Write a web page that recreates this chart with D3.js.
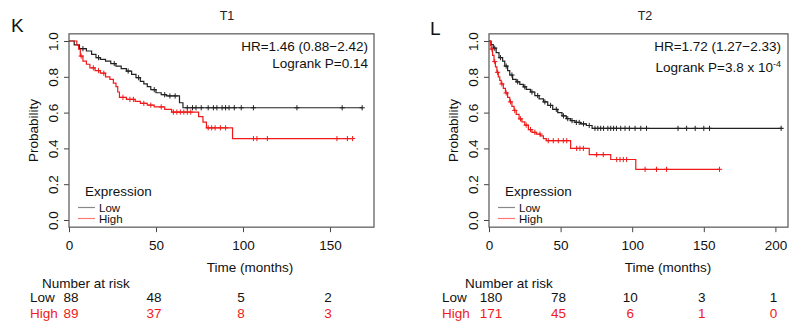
<!DOCTYPE html>
<html lang="en">
<head>
    <meta charset="UTF-8">
    <title>KM T1 / T2</title>
    <script src="https://d3js.org/d3.v7.min.js"></script>
    <style>
        body { margin: 0; background: #fff; }
        svg { display: block; font-family: "Liberation Sans", Arial, sans-serif; }
    </style>
</head>
<body onload='init()'>
    <svg width=789 height=327></svg>

    <script>
        // survival steps [time, probability]
        const t1Low = [[0,1],[3,0.978],[6,0.957],[10,0.944],[13,0.925],[15.5,0.907],[18,0.897],[21,0.888],[24,0.874],[27,0.86],[30,0.846],[33,0.832],[36,0.813],[38.5,0.795],[41,0.775],[43,0.76],[45,0.745],[47,0.728],[50,0.711],[53,0.7],[56,0.693],[63.5,0.655],[65.5,0.627],[169,0.627]];
        const t1High = [[0,1],[4.5,0.977],[5.5,0.954],[6.5,0.916],[8,0.888],[10,0.87],[12,0.85],[15,0.835],[18,0.82],[21,0.8],[23.5,0.786],[25.5,0.765],[27,0.745],[28,0.715],[29,0.685],[33,0.674],[38,0.663],[41,0.652],[45,0.642],[49,0.632],[55,0.618],[59,0.603],[74.5,0.578],[77,0.547],[79,0.515],[94,0.455],[163,0.455]];
        const t1LowCensor = [8,17,26,34,40,49,55,58,61,68,71,73,76,80,83,85,88,90,92,95,99,106,131,157,168.5];
        const t1HighCensor = [7,14,17,20,31,35,37,43,47,53,60,62,64,66,68,70,80,82,84,87,90,106,108,114,154,160,163];

        const t2Low = [[0,1],[1.5,0.98],[3,0.96],[5,0.935],[7,0.907],[9.5,0.888],[11,0.86],[13,0.835],[14.5,0.81],[16.5,0.786],[19,0.772],[21.5,0.758],[24,0.744],[26,0.73],[29,0.715],[32,0.695],[35,0.677],[38,0.66],[41,0.64],[44.5,0.618],[48,0.6],[51,0.582],[54,0.566],[57,0.555],[60,0.545],[64,0.537],[68,0.528],[72,0.512],[205,0.512]];
        const t2High = [[0,1],[1,0.975],[1.5,0.955],[2.5,0.92],[3.5,0.885],[4.5,0.855],[5.5,0.825],[6.5,0.8],[7.5,0.78],[8.5,0.76],[10,0.735],[11.5,0.71],[13,0.685],[14.5,0.66],[16,0.635],[17.5,0.612],[19,0.59],[21,0.565],[23,0.548],[25,0.53],[27.5,0.505],[30,0.49],[33,0.48],[36,0.47],[38,0.455],[40,0.443],[57,0.4],[70,0.365],[85,0.338],[102.5,0.283],[161,0.283]];
        const t2LowCensor = [4,8,12,16,20,25,30,34,39,43,47,52,55,58,61,63,66,70,74,76,78,80,83,85,87,89,92,95,98,102,106,110,132,138,144,150,154,204];
        const t2HighCensor = [2,4,6,9,12,15,18,22,26,29,32,35.6,41.4,44.9,48.4,51.9,54.3,61.2,63.5,65.9,75.2,79.8,89.2,91.5,93.8,96.1,109,117,124,161];

        const yTicks = [0,0.2,0.4,0.6,0.8,1.0];
        const t1XTicks = [0,50,100,150];
        const t2XTicks = [0,50,100,150,200];

        const t1RiskLow = [88,48,5,2];
        const t1RiskHigh = [89,37,8,3];
        const t2RiskLow = [180,78,10,3,1];
        const t2RiskHigh = [171,45,6,1,0];

        const BLACK = "#222";
        const RED = "#f01a1a";

        function survAt(steps, t) {
            let s = steps[0][1];
            for (const p of steps) { if (p[0] <= t) s = p[1]; }
            return s;
        }

        function drawPanel(p) {
            const svg = d3.select("svg");
            const x = d3.scaleLinear().domain([0, p.xmax]).range([p.left, p.right]);
            const y = d3.scaleLinear().domain([0, 1]).range([220, 41]);
            const top = y(1.04), bottom = y(-0.04);

            // letter + title
            svg.append("text").attr("x", p.letterX).attr("y", p.letterY)
                .style("font-size", "19px").attr("fill", "#111").text(p.letter);
            svg.append("text").attr("x", p.titleX).attr("y", 20).attr("text-anchor", "middle")
                .style("font-size", "12.5px").attr("fill", "#222").text(p.title);

            // x axis
            const gx = svg.append("g").attr("transform", "translate(0," + bottom + ")")
                .call(d3.axisBottom(x).tickValues(p.xTicks).tickSize(5).tickSizeOuter(0).tickPadding(5));
            gx.select(".domain").remove();
            gx.selectAll(".tick line").attr("stroke", "#444");
            gx.selectAll(".tick text").attr("fill", "#111").style("font-size", "13.5px")
                .style("font-family", "'Liberation Sans', Arial, sans-serif").attr("dy", "0.95em");

            // y axis, labels rotated like R
            const gy = svg.append("g").attr("transform", "translate(" + p.left + ",0)")
                .call(d3.axisLeft(y).tickValues(yTicks).tickSize(5).tickSizeOuter(0).tickFormat(d3.format(".1f")));
            gy.select(".domain").remove();
            gy.selectAll(".tick line").attr("stroke", "#444");
            gy.selectAll(".tick text")
                .attr("x", null).attr("dy", "0.35em")
                .attr("transform", "translate(-16,0) rotate(-90)")
                .attr("text-anchor", "middle")
                .attr("fill", "#111").style("font-size", "13.5px")
                .style("font-family", "'Liberation Sans', Arial, sans-serif");

            svg.append("text").attr("transform", "translate(" + (p.left - 36) + "," + y(0.5) + ") rotate(-90)")
                .attr("text-anchor", "middle").attr("dy", "0.35em")
                .style("font-size", "13.5px").attr("fill", "#111").text("Probability");

            // box
            svg.append("rect").attr("x", p.left).attr("y", top)
                .attr("width", p.right - p.left).attr("height", bottom - top)
                .attr("fill", "none").attr("stroke", "#555").attr("stroke-width", 1.2);

            // curves
            const line = d3.line().x(d => x(d[0])).y(d => y(d[1])).curve(d3.curveStepAfter);
            const groups = [
                { steps: p.low, censor: p.lowCensor, color: BLACK },
                { steps: p.high, censor: p.highCensor, color: RED }
            ];
            groups.forEach(function (g) {
                svg.append("path").datum(g.steps).attr("d", line)
                    .attr("fill", "none").attr("stroke", g.color).attr("stroke-width", 1.2);
                svg.append("g").selectAll("path")
                    .data(g.censor).enter().append("path")
                    .attr("d", function (t) {
                        const cx = x(t), cy = y(survAt(g.steps, t));
                        return "M" + (cx - 2.6) + "," + cy + "H" + (cx + 2.6) + "M" + cx + "," + (cy - 2.6) + "V" + (cy + 2.6);
                    })
                    .attr("stroke", g.color).attr("stroke-width", 1);
            });

            // HR / logrank
            svg.append("text").attr("x", p.statX).attr("y", 51).attr("text-anchor", "end")
                .style("font-size", "13.5px").attr("fill", "#111").text(p.hr);
            const lr = svg.append("text").attr("x", p.statX).attr("y", p.lrY).attr("text-anchor", "end")
                .style("font-size", "13.5px").attr("fill", "#111").text(p.logrank);
            if (p.sup) {
                lr.append("tspan").attr("dy", "-0.6em").style("font-size", "9px").text(p.sup);
            }

            // legend
            svg.append("text").attr("x", p.legX + 7).attr("y", 196)
                .style("font-size", "13.5px").attr("fill", "#111").text("Expression");
            [["Low", "#888", 207.5, 211.5], ["High", "#f77", 218.5, 223]].forEach(function (l) {
                svg.append("line").attr("x1", p.legX).attr("x2", p.legX + 17)
                    .attr("y1", l[2]).attr("y2", l[2]).attr("stroke", l[1]).attr("stroke-width", 1.2);
                svg.append("text").attr("x", p.legX + 21).attr("y", l[3])
                    .style("font-size", "11.5px").attr("fill", "#111").text(l[0]);
            });

            // axis title
            svg.append("text").attr("x", p.xLabX).attr("y", 272).attr("text-anchor", "middle")
                .style("font-size", "13.5px").attr("fill", "#111").text("Time (months)");

            // number at risk
            svg.append("text").attr("x", p.nrX).attr("y", 288)
                .style("font-size", "13.5px").attr("fill", "#111").text("Number at risk");
            svg.append("text").attr("x", p.rowX).attr("y", 302)
                .style("font-size", "13.5px").attr("fill", "#111").text("Low");
            svg.append("text").attr("x", p.rowX).attr("y", 318)
                .style("font-size", "13.5px").attr("fill", RED).text("High");
            svg.append("g").selectAll("text").data(p.riskLow).enter().append("text")
                .attr("x", (d, i) => x(p.xTicks[i]) + (i === 0 ? 2 : -2)).attr("y", 302)
                .attr("text-anchor", "middle").style("font-size", "13.5px").attr("fill", "#111")
                .text(d => d);
            svg.append("g").selectAll("text").data(p.riskHigh).enter().append("text")
                .attr("x", (d, i) => x(p.xTicks[i]) + (i === 0 ? 2 : -2)).attr("y", 318)
                .attr("text-anchor", "middle").style("font-size", "13.5px").attr("fill", RED)
                .text(d => d);
        }

        function init() {
            drawPanel({
                left: 69, right: 374, xmax: 175.3, xTicks: t1XTicks,
                low: t1Low, high: t1High, lowCensor: t1LowCensor, highCensor: t1HighCensor,
                letter: "K", letterX: 11, letterY: 32, title: "T1", titleX: 227,
                statX: 368, hr: "HR=1.46 (0.88\u22122.42)", logrank: "Logrank P=0.14", lrY: 68,
                legX: 78, xLabX: 250, nrX: 42, rowX: 30,
                riskLow: t1RiskLow, riskHigh: t1RiskHigh
            });
            drawPanel({
                left: 489, right: 788, xmax: 208.8, xTicks: t2XTicks,
                low: t2Low, high: t2High, lowCensor: t2LowCensor, highCensor: t2HighCensor,
                letter: "L", letterX: 430, letterY: 35, title: "T2", titleX: 645,
                statX: 781, hr: "HR=1.72 (1.27\u22122.33)", logrank: "Logrank P=3.8 x 10", sup: "-4", lrY: 72,
                legX: 498, xLabX: 668, nrX: 465, rowX: 442,
                riskLow: t2RiskLow, riskHigh: t2RiskHigh
            });
        }
    </script>
</body>
</html>
